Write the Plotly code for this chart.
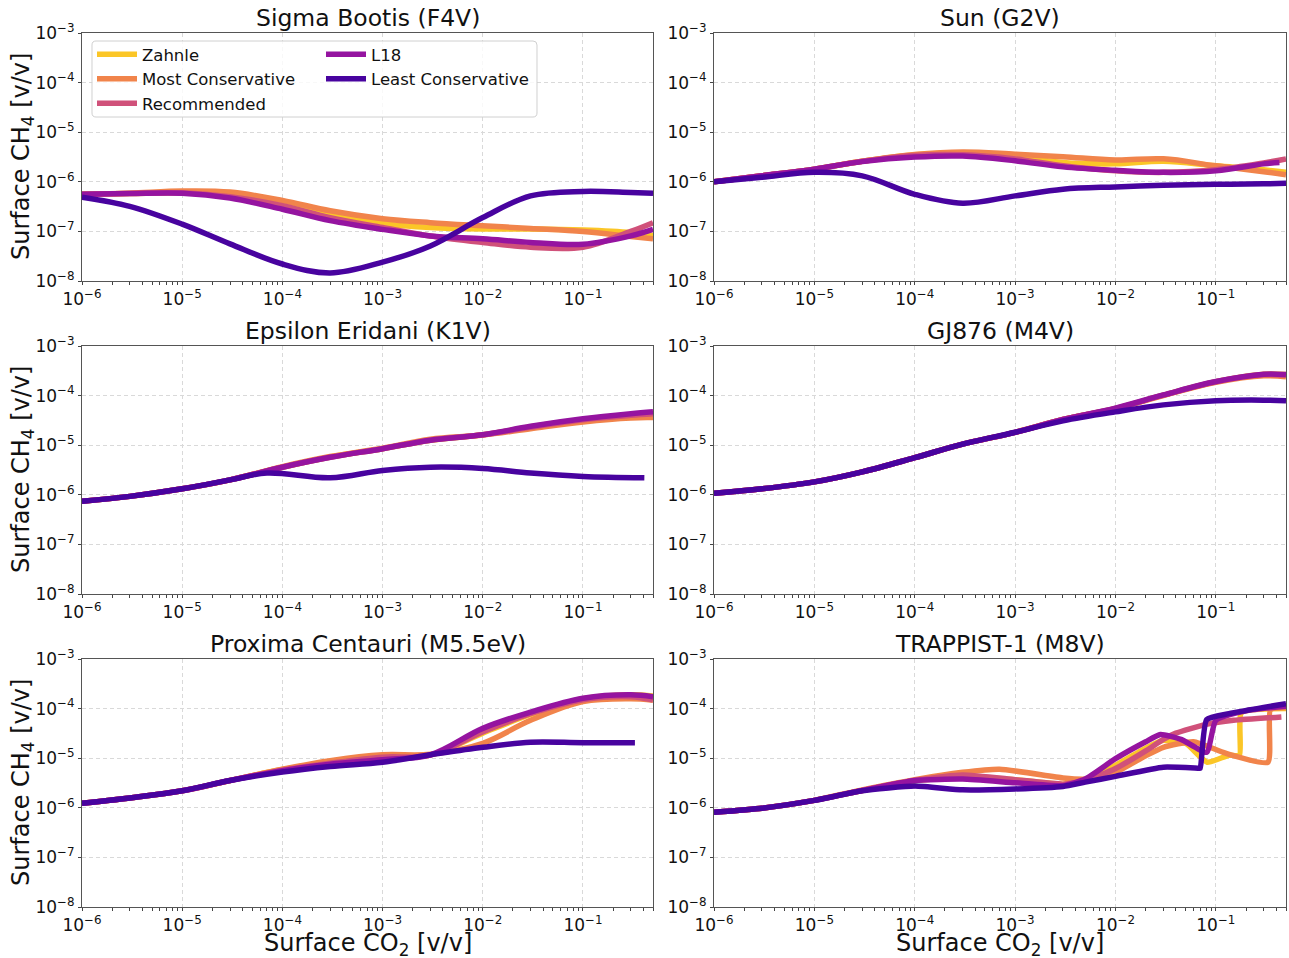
import plotly.graph_objects as go

W, H = 1289, 958

# ---------------- data (surface CO2 and CH4 mixing ratios, v/v) ----------------
co2 = [1e-6, 3e-6, 1e-5, 3e-5, 1e-4, 3e-4, 1e-3, 3e-3, 1e-2, 3e-2, 1e-1, 3e-1, 5e-1]

# Sigma Bootis (F4V)
sb_zahnle = [5.6e-7, 5.8e-7, 6.0e-7, 5.4e-7, 3.7e-7, 2.2e-7, 1.45e-7, 1.2e-7, 1.12e-7, 1.12e-7, 1.07e-7, 9.5e-8, 8.3e-8]
sb_most = [5.6e-7, 5.9e-7, 6.5e-7, 6.2e-7, 4.2e-7, 2.6e-7, 1.8e-7, 1.5e-7, 1.3e-7, 1.15e-7, 1.0e-7, 7.9e-8, 7.1e-8]
sb_rec = [5.6e-7, 5.8e-7, 6.0e-7, 5.0e-7, 3.3e-7, 1.9e-7, 1.2e-7, 8.1e-8, 6.0e-8, 4.8e-8, 4.8e-8, 1.0e-7, 1.5e-7]
sb_l18 = [5.6e-7, 5.8e-7, 5.9e-7, 4.7e-7, 2.8e-7, 1.65e-7, 1.1e-7, 8.1e-8, 7.1e-8, 6.0e-8, 5.5e-8, 8.1e-8, 1.1e-7]
sb_least = [4.9e-7, 3.2e-7, 1.4e-7, 5.6e-8, 2.2e-8, 1.45e-8, 2.4e-8, 5.1e-8, 1.9e-7, 5.2e-7, 6.4e-7, 6.1e-7, 5.9e-7]

# Sun (G2V)
sun_zahnle = [1.0e-6, 1.32e-6, 1.8e-6, 2.6e-6, 3.5e-6, 3.8e-6, 3.3e-6, 2.45e-6, 2.3e-6, 2.6e-6, 2.1e-6, 1.75e-6, 1.55e-6]
sun_most = [1.0e-6, 1.32e-6, 1.8e-6, 2.6e-6, 3.55e-6, 4.0e-6, 3.6e-6, 3.2e-6, 2.75e-6, 2.9e-6, 2.1e-6, 1.6e-6, 1.38e-6]
sun_rec = [1.0e-6, 1.32e-6, 1.8e-6, 2.6e-6, 3.4e-6, 3.5e-6, 2.9e-6, 2.1e-6, 1.66e-6, 1.55e-6, 1.75e-6, 2.4e-6, 2.9e-6]
sun_l18_x = [1e-6, 3e-6, 1e-5, 3e-5, 1e-4, 3e-4, 1e-3, 3e-3, 1e-2, 3e-2, 1e-1, 3e-1, 4.3e-1]
sun_l18 = [1.0e-6, 1.32e-6, 1.8e-6, 2.55e-6, 3.15e-6, 3.3e-6, 2.65e-6, 2.0e-6, 1.7e-6, 1.55e-6, 1.66e-6, 2.3e-6, 2.45e-6]
sun_least = [1.0e-6, 1.23e-6, 1.55e-6, 1.32e-6, 5.6e-7, 3.7e-7, 5.2e-7, 7.1e-7, 7.9e-7, 8.5e-7, 8.9e-7, 9.1e-7, 9.3e-7]

# Epsilon Eridani (K1V)
ee_zahnle = [7.4e-7, 9.3e-7, 1.32e-6, 2.0e-6, 3.6e-6, 5.8e-6, 8.5e-6, 1.26e-5, 1.62e-5, 2.35e-5, 3.3e-5, 4.1e-5, 4.4e-5]
ee_most = [7.4e-7, 9.3e-7, 1.32e-6, 2.0e-6, 3.7e-6, 5.9e-6, 8.7e-6, 1.32e-5, 1.6e-5, 2.15e-5, 2.95e-5, 3.55e-5, 3.6e-5]
ee_rec = [7.4e-7, 9.3e-7, 1.32e-6, 2.0e-6, 3.6e-6, 5.7e-6, 8.5e-6, 1.26e-5, 1.62e-5, 2.3e-5, 3.25e-5, 4.0e-5, 4.3e-5]
ee_l18 = [7.4e-7, 9.3e-7, 1.32e-6, 2.0e-6, 3.6e-6, 5.7e-6, 8.5e-6, 1.26e-5, 1.62e-5, 2.4e-5, 3.4e-5, 4.3e-5, 4.7e-5]
ee_least_x = [1e-6, 3e-6, 1e-5, 3e-5, 7e-5, 3e-4, 1e-3, 3e-3, 1e-2, 3e-2, 1e-1, 4.1e-1]
ee_least = [7.4e-7, 9.3e-7, 1.32e-6, 2.0e-6, 2.75e-6, 2.2e-6, 3.1e-6, 3.6e-6, 3.4e-6, 2.75e-6, 2.35e-6, 2.2e-6]

# GJ876 (M4V)
gj_zahnle = [1.07e-6, 1.32e-6, 1.82e-6, 2.9e-6, 5.6e-6, 1.05e-5, 1.82e-5, 3.3e-5, 5.5e-5, 1.02e-4, 1.9e-4, 2.7e-4, 2.65e-4]
gj_most = [1.07e-6, 1.32e-6, 1.82e-6, 2.9e-6, 5.6e-6, 1.05e-5, 1.82e-5, 3.3e-5, 5.4e-5, 1.0e-4, 1.85e-4, 2.5e-4, 2.4e-4]
gj_rec = [1.07e-6, 1.32e-6, 1.82e-6, 2.9e-6, 5.6e-6, 1.05e-5, 1.82e-5, 3.3e-5, 5.5e-5, 1.02e-4, 1.9e-4, 2.65e-4, 2.6e-4]
gj_l18 = [1.07e-6, 1.32e-6, 1.82e-6, 2.9e-6, 5.6e-6, 1.05e-5, 1.82e-5, 3.3e-5, 5.6e-5, 1.03e-4, 1.92e-4, 2.7e-4, 2.65e-4]
gj_least = [1.07e-6, 1.32e-6, 1.82e-6, 2.9e-6, 5.6e-6, 1.05e-5, 1.82e-5, 3.1e-5, 4.7e-5, 6.5e-5, 7.9e-5, 8.1e-5, 7.9e-5]

# Proxima Centauri (M5.5eV)
px_zahnle = [1.23e-6, 1.58e-6, 2.2e-6, 3.55e-6, 5.9e-6, 8.3e-6, 1.1e-5, 1.17e-5, 3.2e-5, 7.6e-5, 1.58e-4, 1.9e-4, 1.8e-4]
px_most = [1.23e-6, 1.58e-6, 2.2e-6, 3.55e-6, 6.0e-6, 8.9e-6, 1.17e-5, 1.2e-5, 2.0e-5, 5.8e-5, 1.38e-4, 1.58e-4, 1.48e-4]
px_rec = [1.23e-6, 1.58e-6, 2.2e-6, 3.55e-6, 5.75e-6, 7.9e-6, 1.05e-5, 1.15e-5, 3.4e-5, 7.9e-5, 1.5e-4, 1.74e-4, 1.5e-4]
px_l18 = [1.23e-6, 1.58e-6, 2.2e-6, 3.55e-6, 5.6e-6, 7.6e-6, 9.3e-6, 1.17e-5, 4.0e-5, 8.5e-5, 1.62e-4, 1.9e-4, 1.74e-4]
px_least_x = [1e-6, 3e-6, 1e-5, 3e-5, 1e-4, 3e-4, 1e-3, 3e-3, 1e-2, 3e-2, 1e-1, 3.3e-1]
px_least = [1.23e-6, 1.58e-6, 2.2e-6, 3.55e-6, 5.25e-6, 6.8e-6, 8.3e-6, 1.17e-5, 1.66e-5, 2.1e-5, 2.05e-5, 2.05e-5]

# TRAPPIST-1 (M8V)
tr_zahnle_x = [1e-6, 3e-6, 1e-5, 3e-5, 1e-4, 3e-4, 1e-3, 3e-3, 5e-3, 1e-2, 2e-2, 3e-2, 5e-2, 8.2e-2, 1.35e-1, 1.72e-1, 1.8e-1, 5e-1]
tr_zahnle = [8.1e-7, 9.8e-7, 1.41e-6, 2.24e-6, 3.5e-6, 4.2e-6, 3.7e-6, 3.0e-6, 3.5e-6, 7.2e-6, 1.6e-5, 2.3e-5, 2.0e-5, 8.3e-6, 1.15e-5, 1.15e-5, 8.3e-5, 1.0e-4]
tr_most_x = [1e-6, 3e-6, 1e-5, 3e-5, 1e-4, 3e-4, 7e-4, 3e-3, 5e-3, 1e-2, 2e-2, 3e-2, 6e-2, 1.25e-1, 3.3e-1, 3.5e-1, 5e-1]
tr_most = [8.1e-7, 9.8e-7, 1.41e-6, 2.3e-6, 3.7e-6, 5.2e-6, 6.0e-6, 4.0e-6, 3.8e-6, 5.2e-6, 1.12e-5, 1.66e-5, 2.15e-5, 1.26e-5, 8.3e-6, 9.5e-5, 1.05e-4]
tr_rec_x = [1e-6, 3e-6, 1e-5, 3e-5, 1e-4, 3e-4, 1e-3, 3e-3, 5e-3, 1e-2, 2e-2, 3e-2, 4e-2, 8e-2, 1.5e-1, 4.5e-1]
tr_rec = [8.1e-7, 9.8e-7, 1.41e-6, 2.24e-6, 3.55e-6, 4.6e-6, 3.7e-6, 3.0e-6, 3.5e-6, 6.2e-6, 1.4e-5, 2.4e-5, 3.2e-5, 4.8e-5, 5.8e-5, 6.8e-5]
tr_l18_x = [1e-6, 3e-6, 1e-5, 3e-5, 1e-4, 3e-4, 1e-3, 3e-3, 5e-3, 1e-2, 2e-2, 2.8e-2, 4.5e-2, 8.1e-2, 1.0e-1, 2e-1, 5e-1]
tr_l18 = [8.1e-7, 9.8e-7, 1.41e-6, 2.24e-6, 3.55e-6, 3.8e-6, 3.2e-6, 2.8e-6, 3.8e-6, 9.8e-6, 2.15e-5, 3.0e-5, 2.4e-5, 1.32e-5, 5.8e-5, 9.0e-5, 1.12e-4]
tr_least_x = [1e-6, 3e-6, 1e-5, 3e-5, 1e-4, 3e-4, 1e-3, 3e-3, 5e-3, 1e-2, 3e-2, 6.8e-2, 7.0e-2, 8.1e-2, 1.35e-1, 5e-1]
tr_least = [8.1e-7, 9.8e-7, 1.41e-6, 2.2e-6, 2.75e-6, 2.3e-6, 2.4e-6, 2.7e-6, 3.3e-6, 4.3e-6, 6.6e-6, 6.3e-6, 6.3e-6, 6.0e-5, 7.9e-5, 1.26e-4]

scenario_names = ["Zahnle", "Most Conservative", "Recommended", "L18", "Least Conservative"]
scenario_colors = ["#fbc627", "#f1844b", "#d0517a", "#9514a0", "#48039f"]
panel_titles = ["Sigma Bootis (F4V)", "Sun (G2V)", "Epsilon Eridani (K1V)",
                "GJ876 (M4V)", "Proxima Centauri (M5.5eV)", "TRAPPIST-1 (M8V)"]

xtick_vals = [1e-6, 1e-5, 1e-4, 1e-3, 1e-2, 1e-1]
xtick_text = ["10<sup>−6</sup>", "10<sup>−5</sup>", "10<sup>−4</sup>", "10<sup>−3</sup>", "10<sup>−2</sup>", "10<sup>−1</sup>"]
ytick_vals = [1e-8, 1e-7, 1e-6, 1e-5, 1e-4, 1e-3]
ytick_text = ["10<sup>−8</sup>", "10<sup>−7</sup>", "10<sup>−6</sup>", "10<sup>−5</sup>", "10<sup>−4</sup>", "10<sup>−3</sup>"]

panels = [
    [(co2, sb_zahnle), (co2, sb_most), (co2, sb_rec), (co2, sb_l18), (co2, sb_least)],
    [(co2, sun_zahnle), (co2, sun_most), (co2, sun_rec), (sun_l18_x, sun_l18), (co2, sun_least)],
    [(co2, ee_zahnle), (co2, ee_most), (co2, ee_rec), (co2, ee_l18), (ee_least_x, ee_least)],
    [(co2, gj_zahnle), (co2, gj_most), (co2, gj_rec), (co2, gj_l18), (co2, gj_least)],
    [(co2, px_zahnle), (co2, px_most), (co2, px_rec), (co2, px_l18), (px_least_x, px_least)],
    [(tr_zahnle_x, tr_zahnle), (tr_most_x, tr_most), (tr_rec_x, tr_rec), (tr_l18_x, tr_l18), (tr_least_x, tr_least)],
]

# ---------------- layout geometry (pixels) ----------------
col_px = [(82, 653), (714, 1286)]
row_px = [(33, 281), (346, 594), (659, 907)]
FONT = "DejaVu Sans"

fig = go.Figure()
minor_vals = [k * 10.0 ** e for e in range(-6, 0) for k in range(2, 10)]

for i, series in enumerate(panels):
    r, c = divmod(i, 2)
    n = i + 1
    xa = "x" if n == 1 else f"x{n}"
    ya = "y" if n == 1 else f"y{n}"
    for j, (xs, ys) in enumerate(series):
        smooth = 0.5 if i == 5 else 1.0
        fig.add_trace(go.Scatter(
            x=xs, y=ys, mode="lines", name=scenario_names[j],
            line=dict(color=scenario_colors[j], width=5.5, shape="spline", smoothing=smooth),
            xaxis=xa, yaxis=ya,
            showlegend=(i == 0),
            legend=("legend" if j < 3 else "legend2"),
        ))
    x0, x1 = col_px[c]
    y0, y1 = row_px[r]
    axis_common = dict(
        type="log", showline=True, mirror=True, linecolor="#555555", linewidth=1,
        showgrid=True, gridcolor="#d9d9d9", griddash="4px,3px", gridwidth=1,
        ticks="outside", ticklen=3, tickcolor="#444444", zeroline=False,
        tickfont=dict(family=FONT, size=17, color="#111111"),
        automargin=False,
    )
    xkey = "xaxis" if n == 1 else f"xaxis{n}"
    ykey = "yaxis" if n == 1 else f"yaxis{n}"
    fig.update_layout({
        xkey: dict(axis_common, domain=[x0 / W, x1 / W], anchor=ya,
                   range=[-6, -0.301], tickmode="array", tickvals=xtick_vals, ticktext=xtick_text,
                   ticklabelstandoff=0,
                   minor=dict(ticks="outside", ticklen=2.5, tickcolor="#444444", showgrid=False,
                              tickmode="array", tickvals=minor_vals)),
        ykey: dict(axis_common, domain=[1 - y1 / H, 1 - y0 / H], anchor=xa,
                   range=[-8, -3], tickmode="array", tickvals=ytick_vals, ticktext=ytick_text),
    })
    fig.add_annotation(text=panel_titles[i], x=(x0 + x1) / 2 / W, y=1 - (y0 - 15) / H,
                       xref="paper", yref="paper", showarrow=False,
                       font=dict(family=FONT, size=23.5, color="#111111"),
                       xanchor="center", yanchor="middle")

# axis titles
for r in range(3):
    y0, y1 = row_px[r]
    fig.add_annotation(text="Surface CH<sub>4</sub> [v/v]", x=22 / W, y=1 - (y0 + y1) / 2 / H,
                       xref="paper", yref="paper", showarrow=False, textangle=-90,
                       font=dict(family=FONT, size=24, color="#111111"),
                       xanchor="center", yanchor="middle")
for c in range(2):
    x0, x1 = col_px[c]
    fig.add_annotation(text="Surface CO<sub>2</sub> [v/v]", x=(x0 + x1) / 2 / W, y=1 - 944 / H,
                       xref="paper", yref="paper", showarrow=False,
                       font=dict(family=FONT, size=24, color="#111111"),
                       xanchor="center", yanchor="middle")

# legend frame (rounded box drawn in pixel units, converted to paper coords)
lx0, lx1, ly0, ly1, rad = 92, 537, 41, 117, 4
pts = [("M", lx0 + rad, ly0), ("L", lx1 - rad, ly0), ("Q", lx1, ly0, lx1, ly0 + rad),
       ("L", lx1, ly1 - rad), ("Q", lx1, ly1, lx1 - rad, ly1), ("L", lx0 + rad, ly1),
       ("Q", lx0, ly1, lx0, ly1 - rad), ("L", lx0, ly0 + rad), ("Q", lx0, ly0, lx0 + rad, ly0)]
parts = []
for seg in pts:
    cmd, vals = seg[0], seg[1:]
    coords = []
    for k in range(0, len(vals), 2):
        coords.append(f"{vals[k] / W:.5f} {1 - vals[k + 1] / H:.5f}")
    parts.append(cmd + " " + " ".join(coords))
fig.add_shape(type="path", path=" ".join(parts) + " Z", xref="paper", yref="paper", layer="above",
              line=dict(color="#d0d0d0", width=1), fillcolor="rgba(255,255,255,0.8)")

legend_common = dict(bgcolor="rgba(0,0,0,0)", borderwidth=0, orientation="v",
                     font=dict(family=FONT, size=16.5, color="#111111"),
                     xanchor="left", yanchor="top", tracegroupgap=0, itemwidth=40)
fig.update_layout(
    legend=dict(legend_common, x=92 / W, y=1 - 37 / H),
    legend2=dict(legend_common, x=321 / W, y=1 - 37 / H),
    width=W, height=H, margin=dict(l=0, r=0, t=0, b=0),
    plot_bgcolor="white", paper_bgcolor="white",
    font=dict(family=FONT),
)

fig.write_html("out.html", config={"displayModeBar": False},
               post_script="document.body.style.margin='0';document.body.style.overflow='hidden';")
